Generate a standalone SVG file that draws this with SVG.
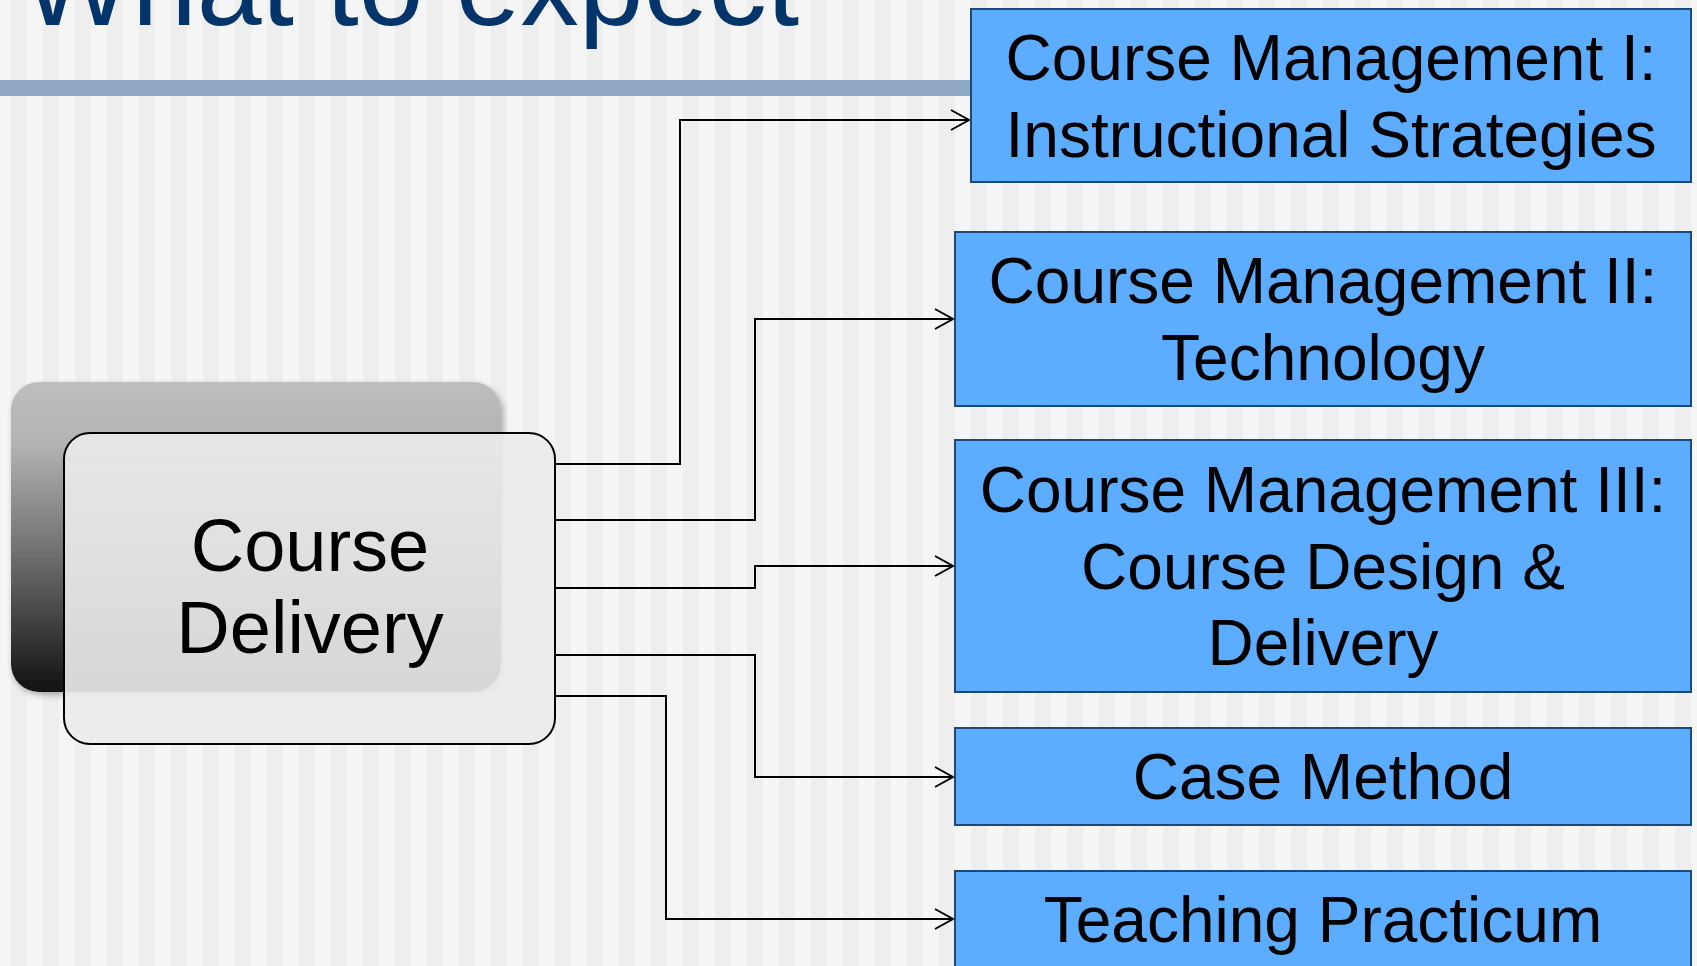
<svg xmlns="http://www.w3.org/2000/svg" width="1697" height="966" viewBox="0 0 1697 966">
  <defs>
    <pattern id="stripes" patternUnits="userSpaceOnUse" x="11" y="0" width="32" height="966">
      <rect x="0" y="0" width="16" height="966" fill="#EEEEEE"/>
      <rect x="16" y="0" width="16" height="966" fill="#F5F5F5"/>
    </pattern>
    <linearGradient id="backGrad" x1="0" y1="0" x2="0" y2="1">
      <stop offset="0" stop-color="#BEBEBE"/>
      <stop offset="0.2" stop-color="#B3B3B3"/>
      <stop offset="0.55" stop-color="#707070"/>
      <stop offset="1" stop-color="#111111"/>
    </linearGradient>
    <filter id="softShadow" x="-10%" y="-10%" width="120%" height="125%">
      <feDropShadow dx="2" dy="3" stdDeviation="3" flood-color="#000" flood-opacity="0.3"/>
    </filter>
    <marker id="arrow" markerUnits="userSpaceOnUse" markerWidth="24" markerHeight="24" refX="0" refY="0" viewBox="-20 -12 22 24" orient="auto" overflow="visible">
      <path d="M -18 -10 L 0 0 L -18 10" fill="none" stroke="#000" stroke-width="2"/>
    </marker>
  </defs>
  <style>
    .title { font-family: "Liberation Sans", Arial, sans-serif; font-size: 116.5px; fill: #03356A; }
    .box { fill: #5CACFF; stroke: #1B4A7A; stroke-width: 2; }
    .boxText { font-family: "Liberation Sans", Arial, sans-serif; font-size: 64px; fill: #000; text-anchor: middle; }
    .mainText { font-family: "Liberation Sans", Arial, sans-serif; font-size: 74px; fill: #000; text-anchor: middle; }
    .conn { fill: none; stroke: #000; stroke-width: 2; marker-end: url(#arrow); }
  </style>

  <rect x="0" y="0" width="1697" height="966" fill="url(#stripes)"/>

  <g id="title">
    <text class="title" x="22" y="25">What to expect</text>
    <rect x="0" y="80" width="975" height="16" fill="#8FA9C4"/>
  </g>

  <g id="course-delivery">
    <rect x="11" y="382" width="490" height="310" rx="28" ry="28" fill="url(#backGrad)" filter="url(#softShadow)"/>
    <rect x="64" y="433" width="491" height="311" rx="26" ry="26" fill="#EBEBEB" fill-opacity="0.91" stroke="#000" stroke-width="2"/>
    <text class="mainText" x="310" y="571">Course</text>
    <text class="mainText" x="310" y="653">Delivery</text>
  </g>

  <g id="connectors">
    <path class="conn" d="M555 464 H680 V120 H969"/>
    <path class="conn" d="M555 520 H755 V319 H953"/>
    <path class="conn" d="M555 588 H755 V566 H953"/>
    <path class="conn" d="M555 655 H755 V777 H953"/>
    <path class="conn" d="M555 696 H666 V919 H953"/>
  </g>

  <g id="cm1">
    <rect class="box" x="971" y="9" width="720" height="173"/>
    <text class="boxText" x="1331" y="80">Course Management I:</text>
    <text class="boxText" x="1331" y="157">Instructional Strategies</text>
  </g>

  <g id="cm2">
    <rect class="box" x="955" y="232" width="736" height="174"/>
    <text class="boxText" x="1323" y="303">Course Management II:</text>
    <text class="boxText" x="1323" y="380">Technology</text>
  </g>

  <g id="cm3">
    <rect class="box" x="955" y="440" width="736" height="252"/>
    <text class="boxText" x="1323" y="512">Course Management III:</text>
    <text class="boxText" x="1323" y="589">Course Design &amp;</text>
    <text class="boxText" x="1323" y="665">Delivery</text>
  </g>

  <g id="case-method">
    <rect class="box" x="955" y="728" width="736" height="97"/>
    <text class="boxText" x="1323" y="799">Case Method</text>
  </g>

  <g id="teaching-practicum">
    <rect class="box" x="955" y="871" width="736" height="110"/>
    <text class="boxText" x="1323" y="942">Teaching Practicum</text>
  </g>
</svg>
